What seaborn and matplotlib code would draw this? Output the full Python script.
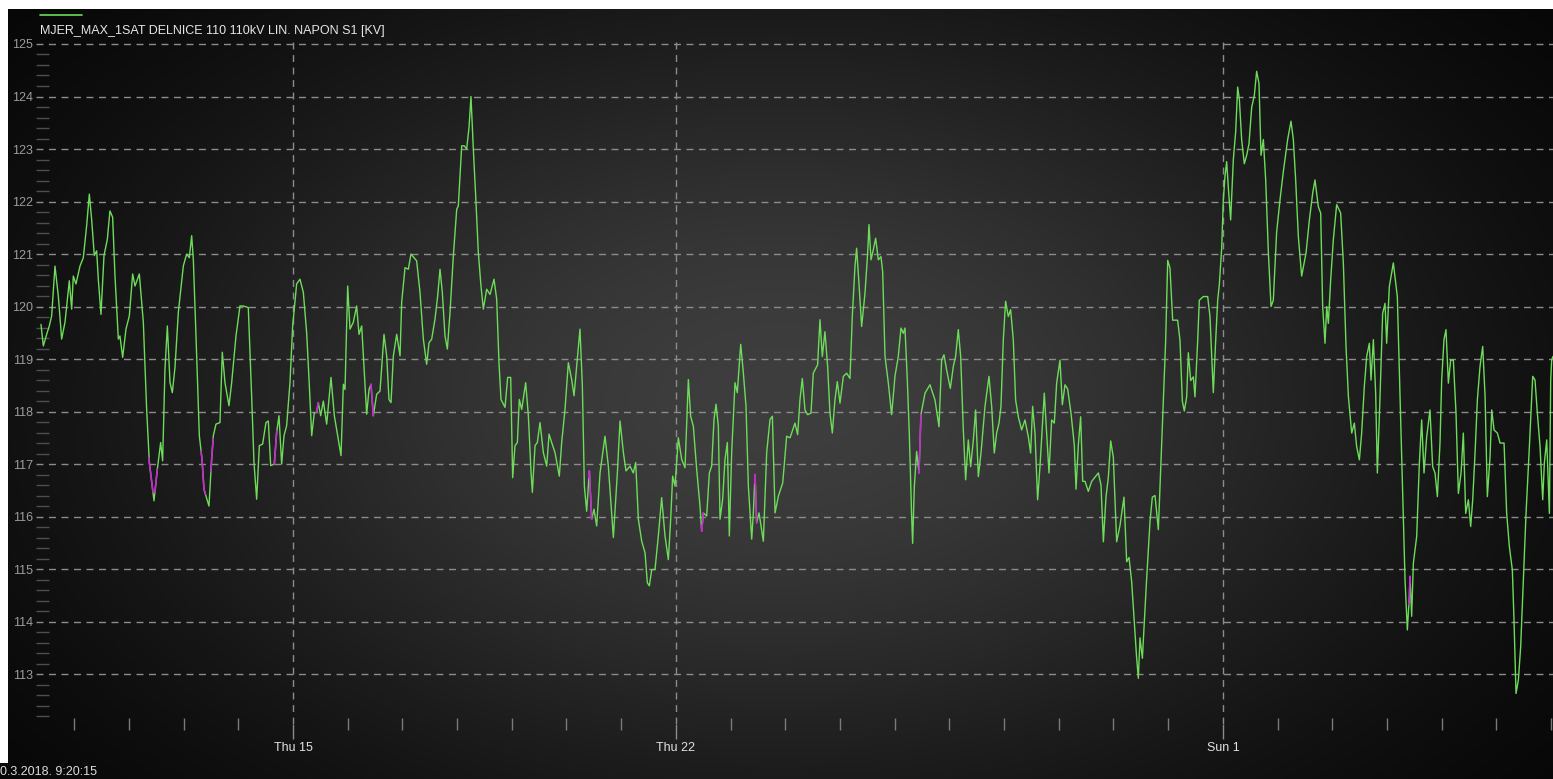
import numpy as np
import pandas as pd
import matplotlib
matplotlib.use("Agg")
import matplotlib.pyplot as plt
import matplotlib.dates as mdates
from matplotlib.ticker import MultipleLocator
from matplotlib.patches import Rectangle
from matplotlib.lines import Line2D
import seaborn as sns

sns.set_style("dark")
plt.rcParams['font.family'] = ['Liberation Sans', 'DejaVu Sans']

# ---------------- data ----------------
START = pd.Timestamp('2018-03-10 00:00')
series_title = "MJER_MAX_1SAT DELNICE 110 110kV LIN. NAPON S1 [KV]"
timestamp_text = "0.3.2018. 9:20:15"
tick_dates = ['2018-03-15', '2018-03-22', '2018-04-01']
tick_labels = ['Thu 15', 'Thu 22', 'Sun 1']
y_ticks = list(range(113, 126))

# (days since 2018-03-10 00:00, kV)
week1 = [(0.393,119.66),(0.436,119.25),(0.497,119.47),(0.545,119.63),(0.588,119.82),(0.649,120.77),
 (0.710,120.20),(0.771,119.38),(0.832,119.70),(0.911,120.49),(0.954,119.95),(0.984,120.58),(1.033,120.43),
 (1.106,120.77),(1.167,120.93),(1.228,121.54),(1.277,122.14),(1.319,121.66),(1.368,120.97),(1.411,121.06),
 (1.441,120.52),(1.490,119.85),(1.545,120.97),(1.606,121.28),(1.654,121.82),(1.703,121.70),(1.746,120.58),
 (1.807,119.38),(1.837,119.44),(1.886,119.03),(1.947,119.57),(2.008,119.82),(2.069,120.62),(2.112,120.39),
 (2.191,120.62),(2.264,119.70),(2.325,118.04),(2.374,117.03),(2.459,116.30),(2.520,116.90),(2.581,117.41),
 (2.617,117.06),(2.660,118.81),(2.703,119.63),(2.752,118.55),(2.794,118.36),(2.843,118.84),(2.904,119.89),
 (2.995,120.77),(3.056,121.00),(3.105,120.93),(3.148,121.35),(3.178,120.90),(3.227,119.44),(3.288,117.54),
 (3.337,117.09),(3.373,116.52),(3.464,116.20),(3.513,117.09),(3.544,117.54),(3.592,117.76),(3.665,117.79),
 (3.708,119.13),(3.757,118.55),(3.830,118.11),(3.879,118.55),(3.958,119.44),(4.031,120.01),(4.092,120.01),
 (4.183,119.98),(4.244,118.30),(4.287,117.03),(4.336,116.33),(4.385,117.35),(4.445,117.38),(4.506,117.79),
 (4.549,117.82),(4.592,116.97),(4.659,117.00),(4.701,117.60),(4.744,117.92),(4.793,117.00),(4.836,117.54),
 (4.884,117.73),(4.945,118.55),(4.994,119.63)]

week2 = [(5.067,120.43),(5.128,120.52),(5.189,120.27),(5.250,119.50),(5.293,118.62),(5.342,117.54),
 (5.390,117.98),(5.433,117.98),(5.463,118.17),(5.506,117.92),(5.555,118.20),(5.616,117.76),(5.695,118.65),
 (5.756,117.92),(5.829,117.47),(5.878,117.16),(5.921,118.52),(5.951,118.42),(6.000,120.39),(6.042,119.57),
 (6.103,119.70),(6.164,120.01),(6.207,119.47),(6.256,119.63),(6.317,118.49),(6.347,117.95),(6.390,118.42),
 (6.426,118.52),(6.469,117.92),(6.530,118.33),(6.591,118.39),(6.664,119.47),(6.713,119.06),(6.755,118.23),
 (6.792,118.17),(6.835,119.06),(6.896,119.47),(6.957,119.06),(6.987,120.08),(7.048,120.74),(7.109,120.71),
 (7.157,121.00),(7.261,120.87),(7.322,120.27),(7.383,119.38),(7.444,118.90),(7.487,119.31),(7.536,119.38),
 (7.596,119.76),(7.645,120.20),(7.688,120.71),(7.730,120.27),(7.779,119.44),(7.822,119.19),(7.871,119.89),
 (7.932,120.97),(7.993,121.85),(8.023,121.92),(8.084,123.06),(8.133,123.06),(8.175,123.00),(8.218,123.41),
 (8.254,124.00),(8.297,123.00),(8.340,122.11),(8.388,121.03),(8.437,120.39),(8.480,119.95),(8.541,120.33),
 (8.602,120.23),(8.675,120.52),(8.724,120.14),(8.766,118.93),(8.803,118.23),(8.876,118.08),(8.925,118.65),
 (8.980,118.65),(9.016,116.74),(9.059,117.35),(9.102,117.41),(9.138,118.23),(9.181,118.04),(9.254,118.55),
 (9.303,117.92),(9.352,116.84),(9.376,116.46),(9.425,117.35),(9.467,117.41)]

week3 = [(9.516,117.79),(9.577,117.22),(9.638,116.96),(9.681,117.57),(9.729,117.41),(9.790,117.22),
 (9.869,116.77),(9.912,117.41),(9.973,118.04),(10.034,118.93),(10.095,118.61),(10.138,118.30),(10.198,118.99),
 (10.247,119.57),(10.290,118.49),(10.327,116.58),(10.369,116.10),(10.418,116.87),(10.461,115.95),(10.503,116.14),
 (10.552,115.82),(10.613,116.83),(10.704,117.53),(10.765,116.96),(10.857,115.60),(10.930,116.83),(10.979,117.82),
 (11.040,117.22),(11.088,116.87),(11.161,116.96),(11.222,116.83),(11.265,117.03),(11.314,115.95),(11.375,115.53),
 (11.436,115.31),(11.478,114.74),(11.515,114.68),(11.558,114.99),(11.618,114.99),(11.679,115.63),(11.740,116.36),
 (11.801,115.63),(11.862,115.18),(11.905,115.95),(11.941,116.77),(11.984,116.58),(12.045,117.50),(12.106,117.09),
 (12.167,116.93),(12.228,118.61),(12.270,117.91),(12.319,117.72),(12.380,116.90),(12.441,116.20),(12.472,115.72),
 (12.502,116.07),(12.563,116.01),(12.612,116.83),(12.654,116.96),(12.697,117.85),(12.734,118.14),(12.776,117.72),
 (12.807,115.95),(12.855,116.33),(12.898,117.09),(12.941,117.41),(12.977,115.63),(13.020,117.22),(13.081,118.55),
 (13.123,118.36),(13.185,119.28),(13.233,118.74),(13.282,118.10),(13.325,116.58),(13.386,115.57),(13.416,116.07),
 (13.447,116.80),(13.477,115.88),(13.520,116.07),(13.599,115.53),(13.660,117.22),(13.721,117.85),(13.764,117.91),
 (13.813,116.07),(13.874,116.39),(13.953,116.64),(14.025,117.53),(14.087,117.50)]

week4 = [(14.177,117.78),(14.226,117.56),(14.268,118.22),(14.311,118.63),(14.360,118.03),(14.409,117.94),
 (14.470,117.97),(14.512,118.73),(14.591,118.89),(14.634,119.75),(14.677,119.05),(14.725,119.52),(14.774,118.86),
 (14.817,117.97),(14.860,117.59),(14.908,118.22),(14.951,118.57),(15.000,118.16),(15.061,118.67),(15.122,118.73),
 (15.183,118.63),(15.225,119.81),(15.274,120.76),(15.304,121.11),(15.347,120.44),(15.396,119.62),(15.457,120.25),
 (15.506,121.02),(15.530,121.56),(15.567,120.89),(15.609,121.08),(15.652,121.30),(15.701,120.89),(15.749,120.95),
 (15.780,120.67),(15.823,119.05),(15.884,118.54),(15.944,117.94),(16.005,118.67),(16.066,119.05),(16.115,119.59),
 (16.158,119.49),(16.188,119.59),(16.231,118.60),(16.267,117.59),(16.310,116.00),(16.328,115.49),(16.359,116.57),
 (16.401,117.24),(16.444,116.83),(16.480,117.94),(16.554,118.35),(16.645,118.51),(16.737,118.22),(16.810,117.71),
 (16.858,118.98),(16.901,119.08),(16.950,118.79),(17.017,118.44),(17.072,118.86),(17.114,119.05),(17.163,119.56),
 (17.206,119.05),(17.255,117.65),(17.297,116.70),(17.346,117.46),(17.389,116.95),(17.438,117.46),(17.480,118.03),
 (17.529,116.76),(17.578,117.21),(17.651,118.10),(17.724,118.67),(17.773,118.10),(17.821,117.21),(17.864,117.59),
 (17.907,117.78),(17.943,118.10),(17.986,119.37),(18.028,120.10),(18.077,119.81),(18.120,119.94),(18.168,119.37),
 (18.211,118.22),(18.260,117.90),(18.321,117.65),(18.382,117.84),(18.443,117.52),(18.485,117.21),(18.522,118.10),
 (18.565,117.59),(18.613,116.32),(18.656,116.95),(18.699,117.71),(18.735,118.35),(18.778,117.59),(18.821,116.83),
 (18.869,117.84),(18.918,117.78),(18.961,118.54),(19.022,118.98)]

week5 = [(19.065,118.13),(19.114,118.51),(19.162,118.43),(19.223,117.97),(19.284,117.36),(19.315,116.52),
 (19.357,117.36),(19.400,117.90),(19.437,116.67),(19.479,116.67),(19.540,116.48),(19.601,116.67),(19.662,116.75),
 (19.723,116.83),(19.772,116.60),(19.815,115.52),(19.863,116.37),(19.906,116.75),(19.949,117.44),(19.997,117.13),
 (20.058,115.52),(20.119,115.83),(20.192,116.37),(20.241,115.14),(20.284,115.22),(20.332,114.76),(20.381,113.99),
 (20.424,113.30),(20.454,112.92),(20.485,113.69),(20.528,113.30),(20.564,113.99),(20.607,114.83),(20.668,115.91),
 (20.710,116.37),(20.759,116.40),(20.820,115.75),(20.869,117.06),(20.911,118.20),(20.954,119.35),(20.991,120.88),
 (21.033,120.73),(21.082,119.74),(21.125,119.74),(21.173,119.74),(21.216,119.35),(21.259,118.20),(21.295,118.01),
 (21.338,118.28),(21.368,119.12),(21.411,118.59),(21.460,118.66),(21.490,118.28),(21.539,119.35),(21.569,120.12),
 (21.642,120.19),(21.722,120.19),(21.764,119.81),(21.825,118.36),(21.868,119.35),(21.905,120.12),(21.935,120.42),
 (21.978,121.11),(22.008,122.03),(22.039,122.49),(22.069,122.76),(22.100,122.26),(22.142,121.65),(22.191,122.80),
 (22.234,123.33),(22.270,124.18),(22.301,123.95),(22.343,123.18),(22.392,122.72),(22.435,122.88),(22.477,123.10),
 (22.526,123.79),(22.575,124.02),(22.617,124.48),(22.660,124.25),(22.697,122.88),(22.740,123.18),(22.782,122.42),
 (22.831,121.04),(22.880,120.00),(22.922,120.12),(22.983,121.42),(23.044,122.03),(23.105,122.57),(23.184,123.18),
 (23.245,123.53),(23.288,123.18),(23.330,122.42),(23.379,121.34),(23.440,120.58)]

week6 = [(23.520,121.02),(23.581,121.65),(23.642,122.16),(23.684,122.41),(23.745,121.90),(23.788,121.78),
 (23.824,120.00),(23.867,119.30),(23.898,120.00),(23.928,119.68),(23.971,120.51),(24.019,121.27),(24.080,121.94),
 (24.153,121.78),(24.202,120.83),(24.251,119.24),(24.294,118.29),(24.355,117.59),(24.403,117.78),(24.446,117.33),
 (24.495,117.08),(24.537,117.59),(24.586,118.48),(24.629,119.05),(24.678,119.30),(24.708,118.60),(24.751,119.37),
 (24.793,118.35),(24.824,116.83),(24.873,118.29),(24.921,119.87),(24.964,120.06),(24.994,119.30),(25.043,120.38),
 (25.116,120.83),(25.189,120.19),(25.238,118.29),(25.287,116.38),(25.330,114.79),(25.372,113.84),(25.409,114.48),
 (25.421,114.86),(25.451,114.10),(25.482,115.11),(25.543,115.62),(25.592,117.02),(25.634,117.84),(25.677,116.83),
 (25.726,117.52),(25.786,118.03),(25.835,116.95),(25.878,116.83),(25.921,116.38),(25.969,117.40),(26.000,118.60),
 (26.042,119.37),(26.079,119.56),(26.122,118.54),(26.164,118.98),(26.213,118.98),(26.262,117.97),(26.305,116.44),
 (26.354,116.83),(26.396,117.59),(26.439,116.06),(26.488,116.32),(26.530,115.81),(26.567,116.32),(26.610,117.21),
 (26.652,118.22),(26.701,118.86),(26.750,119.24),(26.793,118.29),(26.835,116.38),(26.884,117.14),(26.915,118.03),
 (26.957,117.65),(27.018,117.59),(27.067,117.40),(27.140,117.40),(27.188,116.06),(27.237,115.43),(27.292,114.98),
 (27.322,114.03),(27.359,112.63),(27.402,112.89),(27.444,113.52),(27.493,114.79),(27.542,116.06),(27.603,117.33),
 (27.664,118.67),(27.706,118.60),(27.749,117.97),(27.798,117.33),(27.847,116.32),(27.877,117.02),(27.920,117.46),
 (27.969,116.06),(27.993,118.60),(28.011,118.98),(28.035,119.05)]

# periods drawn in magenta (days since 2018-03-10)
flagged_periods = [(2.37, 2.44), (2.475, 2.52), (3.32, 3.40), (3.50, 3.54), (4.655, 4.705),
                   (5.42, 5.465), (6.42, 6.47), (10.41, 10.465), (12.465, 12.505),
                   (13.44, 13.48), (16.44, 16.48), (25.40, 25.425)]

# ---------------- styling ----------------
W, H = 1553, 779
GREEN = '#6edc5a'
MAGENTA = '#c22ccc'
GRID = '#8c8c8c'

fig = plt.figure(figsize=(W / 100, H / 100), dpi=100)
fig.patch.set_facecolor('black')

# radial background glow
bg = fig.add_axes([0, 0, 1, 1], zorder=0)
yy, xx = np.mgrid[0:H, 0:W]
glow = 62 * np.exp(-((xx - 780) / 680.0) ** 2 - ((yy - 400) / 420.0) ** 2)
img = np.dstack([glow, glow, glow]) / 255.0
bg.imshow(img, extent=[0, W, H, 0], aspect='auto', interpolation='bilinear')
bg.set_xlim(0, W)
bg.set_ylim(H, 0)
bg.add_patch(Rectangle((0, 0), W, 9, color='white', lw=0))
bg.add_patch(Rectangle((0, 0), 8, 763, color='white', lw=0))
bg.axis('off')

# main axes (pixel layout)
L, R, T, B = 36, 1553, 40, 724
PX_PER_KV = 52.58
ax = fig.add_axes([L / W, 1 - B / H, (R - L) / W, (B - T) / H], zorder=1)
ax.patch.set_alpha(0)
for s in ax.spines.values():
    s.set_visible(False)

df = pd.DataFrame(week1 + week2 + week3 + week4 + week5 + week6, columns=['day', 'kv'])
df['time'] = START + pd.to_timedelta(df['day'], unit='D')

sns.lineplot(data=df, x='time', y='kv', ax=ax, color=GREEN, linewidth=1.0,
             estimator=None, sort=False, legend=False)

for a, b in flagged_periods:
    inner = df[(df['day'] > a) & (df['day'] < b)]
    days = np.concatenate([[a], inner['day'].values, [b]])
    vals = np.interp(days, df['day'].values, df['kv'].values)
    seg = pd.DataFrame({'time': START + pd.to_timedelta(days, unit='D'), 'kv': vals})
    sns.lineplot(data=seg, x='time', y='kv', ax=ax, color=MAGENTA, linewidth=1.2,
                 estimator=None, sort=False, legend=False)

ax.set_xlim(START + pd.Timedelta(days=0.302), START + pd.Timedelta(days=28.035))
ax.set_ylim(113 - (B - 674) / PX_PER_KV, 125 + (44 - T) / PX_PER_KV)

ax.set_yticks(y_ticks)
ax.set_yticklabels([str(v) for v in y_ticks])
ax.yaxis.set_minor_locator(MultipleLocator(0.2))
ax.set_xticks(pd.to_datetime(tick_dates))
ax.set_xticklabels(tick_labels)
ax.xaxis.set_minor_locator(mdates.DayLocator())

ax.grid(True, which='major', axis='both', color=GRID, linestyle=(0, (5, 4)), linewidth=1.0)
ax.grid(False, which='minor')
ax.tick_params(axis='y', which='both', left=True, right=False)
ax.tick_params(axis='x', which='both', bottom=True, top=False)
ax.tick_params(axis='y', which='major', length=0, pad=2, labelsize=9, labelcolor='#9c9c9c')
ax.tick_params(axis='y', which='minor', direction='in', length=9, width=1, color='#4e4e4e')
ax.tick_params(axis='x', which='major', direction='out', length=11, width=1, color=GRID,
               pad=2, labelsize=9, labelcolor='#e2e2e2')
ax.tick_params(axis='x', which='minor', direction='inout', length=8, width=1, color='#7a7a7a')
ax.set_xlabel('')
ax.set_ylabel('')

# legend (sample line above the title text)
fig.add_artist(Line2D([40 / W, 82 / W], [1 - 15 / H, 1 - 15 / H], color=GREEN, linewidth=1.2))
fig.text(40 / W, 1 - 31 / H, series_title, ha='left', va='center', fontsize=9, color='#e6e6e6')

# timestamp at the bottom-left
fig.text(0.5 / W, 1 - 766 / H, timestamp_text, ha='left', va='top', fontsize=9, color='#dcdcdc')

fig.savefig('out.png', dpi=100, facecolor='black')
